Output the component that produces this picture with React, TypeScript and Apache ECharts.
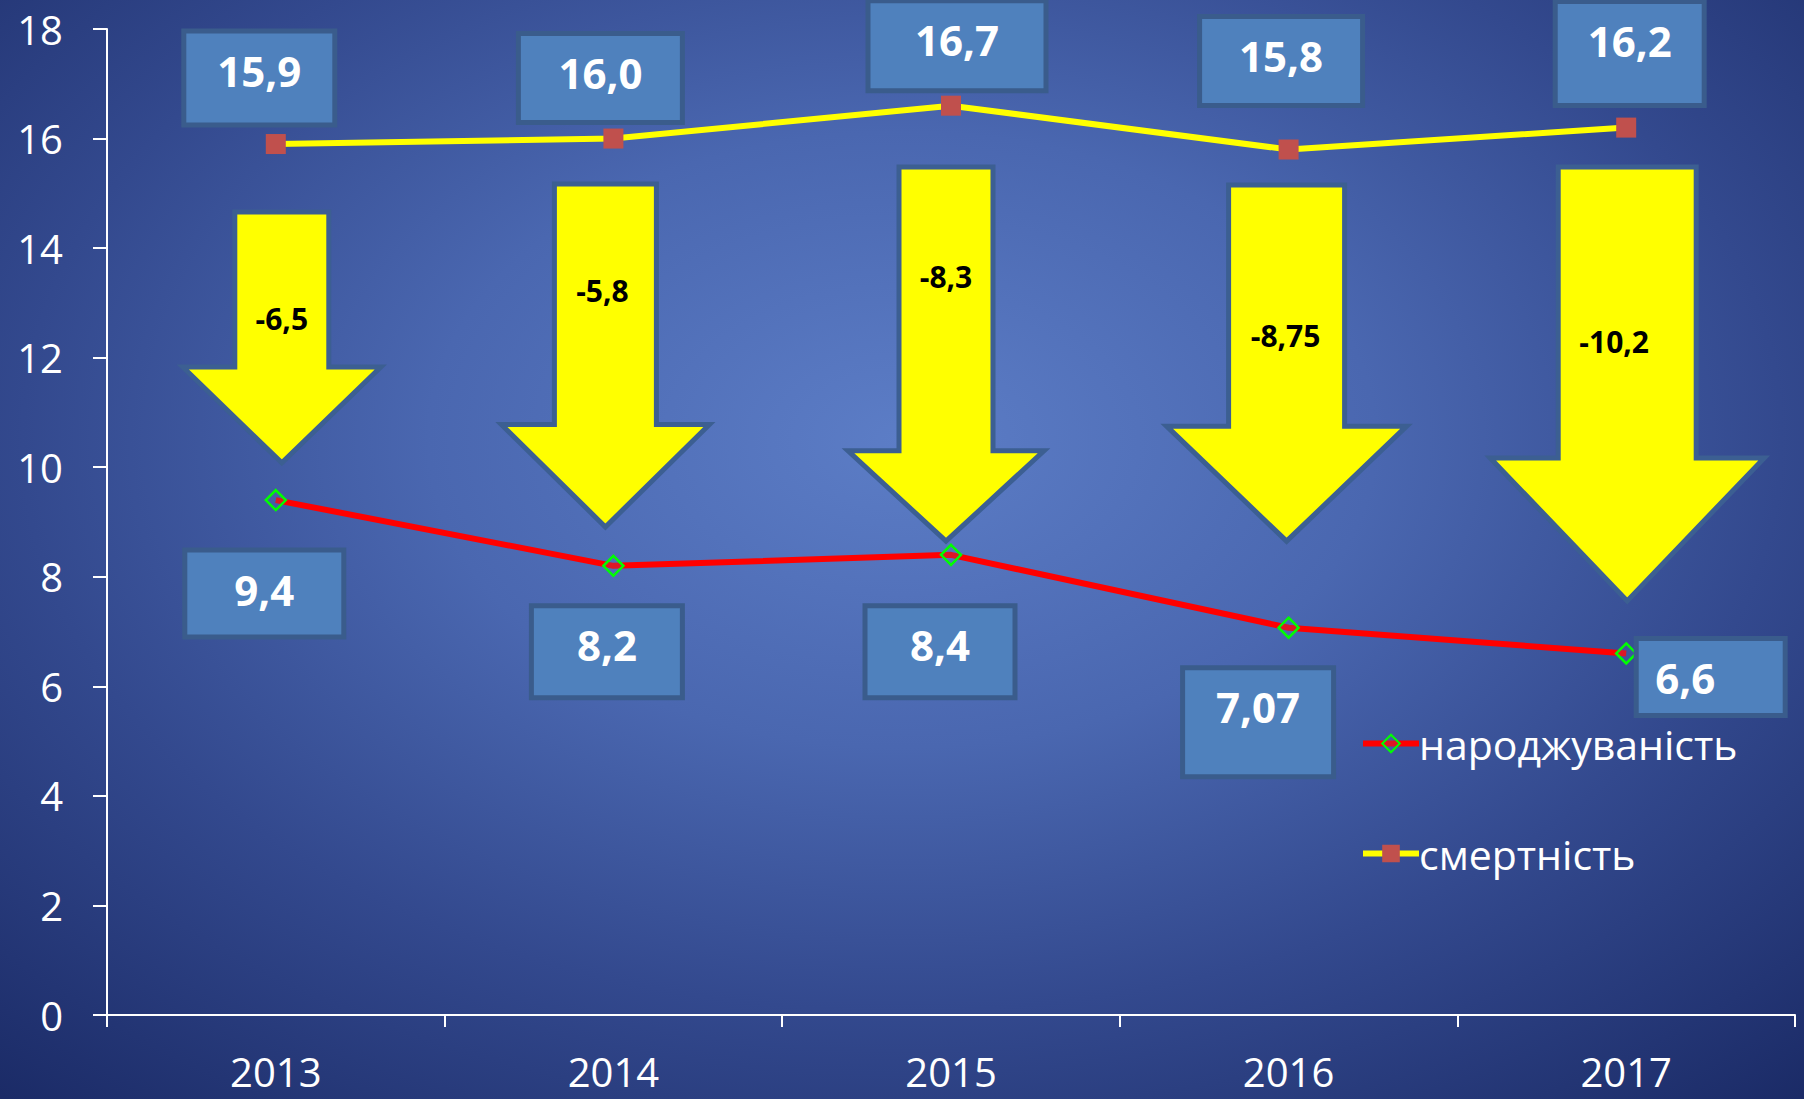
import React, { useEffect, useRef } from "react";
import * as echarts from "echarts";

// ---- data ----
const years = ["2013", "2014", "2015", "2016", "2017"];
const births = [9.4, 8.2, 8.4, 7.07, 6.6]; // народжуваність
const deaths = [15.9, 16.0, 16.6, 15.8, 16.2]; // смертність
const birthLabels = ["9,4", "8,2", "8,4", "7,07", "6,6"];
const deathLabels = ["15,9", "16,0", "16,7", "15,8", "16,2"];
const diffLabels = ["-6,5", "-5,8", "-8,3", "-8,75", "-10,2"];
const yTicks = { min: 0, max: 18, interval: 2 };

// ---- layout (decorations) ----
// arrows: vertical extents in axis units, widths/offsets in px
const ARROWS = [
  { dx: 6, shaft: 47, head: 99, top: 14.66, neck: 11.83, tip: 10.08, textY: 12.72, textDx: 0 },
  { dx: -8, shaft: 51, head: 104, top: 15.17, neck: 10.78, tip: 8.91, textY: 13.23, textDx: -3 },
  { dx: -5, shaft: 47, head: 98, top: 15.48, neck: 10.3, tip: 8.65, textY: 13.49, textDx: 0 },
  { dx: -2, shaft: 58, head: 120, top: 15.15, neck: 10.75, tip: 8.65, textY: 12.41, textDx: -1 },
  { dx: 1, shaft: 69, head: 137, top: 15.48, neck: 10.17, tip: 7.56, textY: 12.3, textDx: -13 },
];
// label boxes: offset of the box's top-left from the data point, size, text x within box
const DEATH_BOX = [
  { dx: -92, dy: -113, w: 151, h: 94, tx: 0.5 },
  { dx: -95, dy: -105, w: 164, h: 89, tx: 0.5 },
  { dx: -83, dy: -105, w: 178, h: 90, tx: 0.5 },
  { dx: -89, dy: -133, w: 163, h: 89, tx: 0.5 },
  { dx: -71, dy: -126, w: 149, h: 104, tx: 0.5 },
];
const BIRTH_BOX = [
  { dx: -91, dy: 50, w: 159, h: 87, tx: 0.5 },
  { dx: -82, dy: 40, w: 151, h: 92, tx: 0.5 },
  { dx: -86, dy: 51, w: 150, h: 92, tx: 0.5 },
  { dx: -106, dy: 40, w: 151, h: 109, tx: 0.5 },
  { dx: 10, dy: -15, w: 149, h: 77, tx: 0.33 },
];

const FONT = '"Open Sans", "Noto Sans", sans-serif';

export default function App() {
  const ref = useRef<HTMLDivElement>(null);

  useEffect(() => {
    if (!ref.current) return;
    const chart = echarts.init(ref.current, undefined, { renderer: "svg" });

    const arrowSeries = {
      type: "custom",
      name: "arrows",
      z: 1,
      clip: false,
      silent: true,
      encode: { x: 0, y: 1 },
      data: years.map((_, i) => [i, ARROWS[i].top]),
      renderItem: (params: any, api: any) => {
        const i = params.dataIndex;
        const a = ARROWS[i];
        const pTop = api.coord([i, a.top]);
        const pNeck = api.coord([i, a.neck]);
        const pTip = api.coord([i, a.tip]);
        const pText = api.coord([i, a.textY]);
        const cx = pTop[0] + a.dx;
        const pts = [
          [cx - a.shaft, pTop[1]],
          [cx + a.shaft, pTop[1]],
          [cx + a.shaft, pNeck[1]],
          [cx + a.head, pNeck[1]],
          [cx, pTip[1]],
          [cx - a.head, pNeck[1]],
          [cx - a.shaft, pNeck[1]],
        ];
        return {
          type: "group",
          children: [
            {
              type: "polygon",
              shape: { points: pts },
              style: { fill: "#ffff00", stroke: "#3c5f92", lineWidth: 5, lineJoin: "miter" },
            },
            {
              type: "text",
              style: {
                text: diffLabels[i],
                x: cx + a.textDx,
                y: pText[1],
                align: "center",
                verticalAlign: "middle",
                fill: "#000000",
                fontSize: 30,
                fontWeight: "bold",
                fontFamily: FONT,
              },
            },
          ],
        };
      },
    };

    const boxItem = (pt: number[], b: any, label: string) => {
      const x = pt[0] + b.dx;
      const y = pt[1] + b.dy;
      return [
        {
          type: "rect",
          shape: { x, y, width: b.w, height: b.h },
          style: { fill: "#4f81bd", stroke: "#3a5c8c", lineWidth: 5 },
        },
        {
          type: "text",
          style: {
            text: label,
            x: x + b.w * b.tx,
            y: y + 39,
            align: "center",
            verticalAlign: "middle",
            fill: "#ffffff",
            fontSize: 42,
            fontWeight: "bold",
            fontFamily: FONT,
          },
        },
      ];
    };

    const boxSeries = {
      type: "custom",
      name: "boxes",
      z: 10,
      clip: false,
      silent: true,
      encode: { x: 0, y: 1 },
      data: years.map((_, i) => [i, deaths[i], births[i]]),
      renderItem: (params: any, api: any) => {
        const i = params.dataIndex;
        const pd = api.coord([i, deaths[i]]);
        const pb = api.coord([i, births[i]]);
        return {
          type: "group",
          children: [
            ...boxItem(pd, DEATH_BOX[i], deathLabels[i]),
            ...boxItem(pb, BIRTH_BOX[i], birthLabels[i]),
          ],
        };
      },
    };

    chart.setOption({
      animation: false,
      backgroundColor: "transparent",
      textStyle: { fontFamily: FONT },
      grid: { left: 107, right: 9, top: 29, bottom: 84, containLabel: false },
      legend: {
        orient: "vertical",
        left: 1355,
        top: 718,
        itemWidth: 56,
        itemHeight: 22,
        itemGap: 69,
        data: ["народжуваність", "смертність"],
        lineStyle: { width: 6 },
        textStyle: { color: "#ffffff", fontSize: 41, fontFamily: FONT, lineHeight: 40, padding: [0, 0, 0, -5] },
      },
      xAxis: {
        type: "category",
        data: years,
        boundaryGap: true,
        axisLine: { show: true, lineStyle: { color: "#ffffff", width: 2 } },
        axisTick: { show: true, length: 12, alignWithLabel: false, lineStyle: { color: "#ffffff", width: 2 } },
        axisLabel: { color: "#ffffff", fontSize: 40, fontFamily: FONT, margin: 36 },
        splitLine: { show: false },
      },
      yAxis: {
        type: "value",
        min: yTicks.min,
        max: yTicks.max,
        interval: yTicks.interval,
        axisLine: { show: true, lineStyle: { color: "#ffffff", width: 2 } },
        axisTick: { show: true, length: 14, lineStyle: { color: "#ffffff", width: 2 } },
        axisLabel: { color: "#ffffff", fontSize: 40, fontFamily: FONT, margin: 44 },
        splitLine: { show: false },
      },
      series: [
        arrowSeries,
        {
          type: "line",
          name: "народжуваність",
          data: births,
          z: 5,
          symbol: "diamond",
          symbolSize: 20,
          lineStyle: { color: "#ff0000", width: 6 },
          itemStyle: { color: "rgba(80,120,190,0.2)", borderColor: "#00ff00", borderWidth: 2.5 },
        },
        {
          type: "line",
          name: "смертність",
          data: deaths,
          z: 5,
          symbol: "rect",
          symbolSize: 20,
          lineStyle: { color: "#ffff00", width: 6 },
          itemStyle: { color: "#c0504d" },
        },
        boxSeries,
      ],
    });

    return () => chart.dispose();
  }, []);

  return (
    <div
      style={{
        position: "absolute",
        left: 0,
        top: 0,
        width: 1804,
        height: 1099,
        background:
          "radial-gradient(ellipse 75% 80% at 50% 40%, #5c7dc6 0%, #4a67b0 35%, #33498e 65%, #1b2b67 100%)",
      }}
    >
      <div ref={ref} style={{ width: 1804, height: 1099 }} />
    </div>
  );
}
